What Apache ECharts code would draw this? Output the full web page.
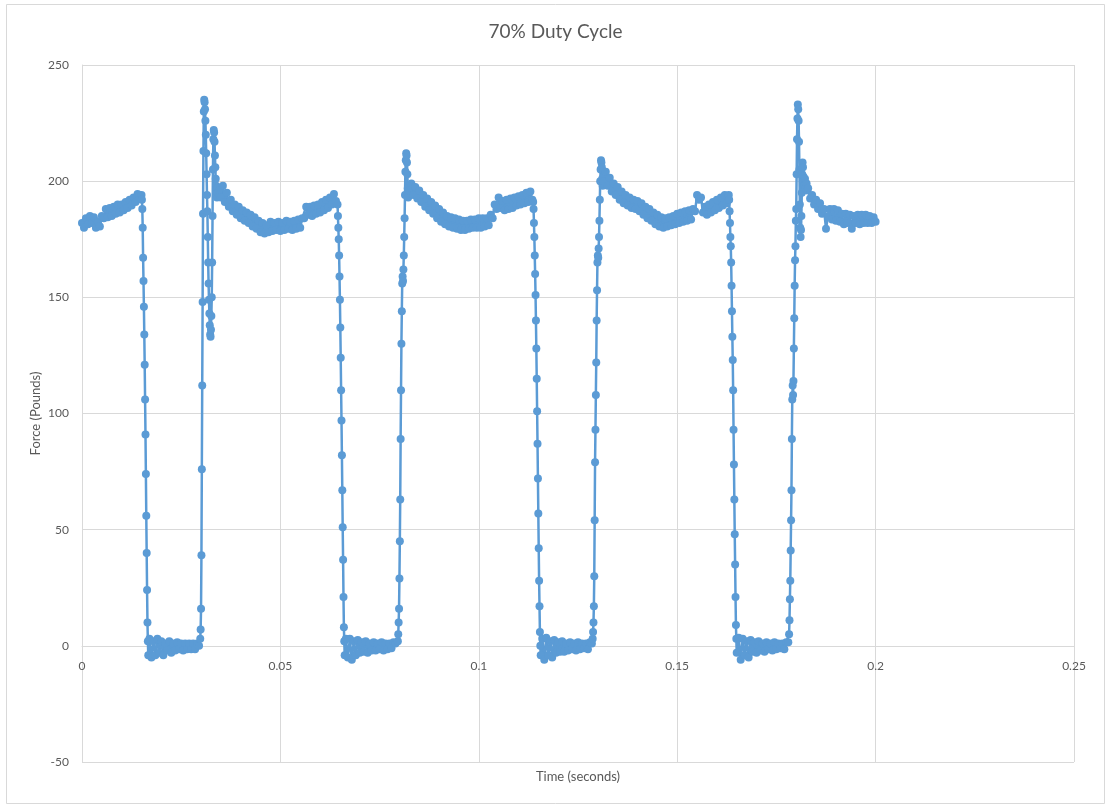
<!DOCTYPE html>
<html>
<head>
<meta charset="utf-8">
<title>70% Duty Cycle</title>
<script src="https://cdn.jsdelivr.net/npm/echarts@6/dist/echarts.min.js"></script>
<style>
  html, body { margin: 0; padding: 0; background: #ffffff; }
  #chart { width: 1111px; height: 808px; }
</style>
</head>
<body>
<div id="chart"></div>
<script>
// Force readings [time (s), force (lb)] for one run at 70% duty cycle,
// split into the on/off phases of each cycle.
const highA = [[0,182],[0.0005,180],[0.001,184],[0.0015,181.5],[0.002,185],[0.0025,182],[0.003,184.5],[0.0035,180],[0.004,182.5],[0.0045,180.5],[0.005,185],[0.0055,184],[0.006,188],[0.0065,184.5],[0.007,188.5],[0.0075,185],[0.008,189],[0.0085,186],[0.009,190],[0.0095,186.5],[0.01,190],[0.0105,187.5],[0.011,191],[0.0115,188.5],[0.012,192],[0.0125,189.5],[0.013,193],[0.0135,191],[0.014,194.5],[0.0145,192.5],[0.015,194]];
const fallA = [[0.0151,192],[0.0152,188],[0.0153,180],[0.0154,167],[0.0155,157],[0.0156,146],[0.0157,134],[0.0158,121],[0.0159,106],[0.016,91],[0.0161,74],[0.0162,56],[0.0163,40],[0.0164,24],[0.0165,10],[0.0166,2],[0.0167,-4]];
const lowA = [[0.017,3],[0.0175,-5],[0.018,2],[0.0185,-4],[0.019,3],[0.0195,-3],[0.02,2],[0.0205,-4],[0.021,1],[0.0215,-2],[0.022,2],[0.0225,-3],[0.023,1],[0.0235,-2],[0.024,1.5],[0.0245,-1.5],[0.025,1],[0.0255,-2],[0.026,1],[0.0265,-1.5],[0.027,1],[0.0275,-1.5],[0.028,1],[0.0285,-1.5],[0.029,1],[0.0295,0]];
const riseA = [[0.0298,3],[0.0299,7],[0.03,16],[0.0301,39],[0.0302,76],[0.0303,112],[0.0304,148],[0.0305,186],[0.0306,213],[0.0307,230],[0.0308,235],[0.0309,234],[0.031,231],[0.0311,226],[0.0312,220],[0.0313,212],[0.0314,203],[0.0315,194],[0.0316,187],[0.0317,176],[0.0318,165],[0.0319,156],[0.032,149],[0.0321,143],[0.0322,138],[0.0323,134],[0.0324,133],[0.0325,136],[0.0326,142],[0.0327,150],[0.0328,165],[0.0329,185],[0.033,205],[0.0331,218],[0.0332,222],[0.0333,221],[0.0334,217],[0.0335,211],[0.0336,206],[0.0337,201],[0.0338,198],[0.0339,195],[0.034,193],[0.0341,197],[0.0342,195]];
const highB = [[0.0345,196],[0.035,193],[0.0355,198],[0.036,191],[0.0365,195],[0.037,189],[0.0375,192],[0.038,187],[0.0385,190],[0.039,185.5],[0.0395,189],[0.04,184],[0.0405,187.5],[0.041,183],[0.0415,186.5],[0.042,182],[0.0425,185.5],[0.043,180.5],[0.0435,184.5],[0.044,179.5],[0.0445,183],[0.045,178],[0.0455,182],[0.046,177.5],[0.0465,181],[0.047,178],[0.0475,182.5],[0.048,178.5],[0.0485,182],[0.049,179],[0.0495,182.5],[0.05,178.5],[0.0505,182],[0.051,179],[0.0515,183],[0.052,179.5],[0.0525,182.5],[0.053,179],[0.0535,183],[0.054,179.5],[0.0545,183.5],[0.055,180],[0.0555,184],[0.056,184],[0.0565,189],[0.057,185.5],[0.0575,189],[0.058,185],[0.0585,189.5],[0.059,186],[0.0595,190],[0.06,186.5],[0.0605,191],[0.061,187.5],[0.0615,192],[0.062,188.5],[0.0625,193],[0.063,190],[0.0635,194.5],[0.064,191.5]];
const fallB = [[0.0644,190],[0.0645,185],[0.0646,180],[0.0647,175],[0.0648,168],[0.0649,159],[0.065,149],[0.0651,137],[0.0652,124],[0.0653,110],[0.0654,97],[0.0655,82],[0.0656,67],[0.0657,51],[0.0658,37],[0.0659,21],[0.066,8],[0.0661,2],[0.0662,-4]];
const lowB = [[0.0665,3],[0.067,-5],[0.0675,3],[0.068,-6],[0.0685,2],[0.069,-4],[0.0695,2.5],[0.07,-3],[0.0705,1.5],[0.071,-2.5],[0.0715,2],[0.072,-3],[0.0725,1],[0.073,-2],[0.0735,1.5],[0.074,-2],[0.0745,1],[0.075,-1.5],[0.0755,1.5],[0.076,-2],[0.0765,1],[0.077,-1.5],[0.0775,1],[0.078,-1],[0.0785,1.5],[0.079,1]];
const riseB = [[0.0796,2],[0.0797,5],[0.0798,10],[0.0799,16],[0.08,29],[0.0801,45],[0.0802,63],[0.0803,89],[0.0804,110],[0.0805,130],[0.0806,144],[0.0807,156],[0.0808,159],[0.0809,157],[0.081,162],[0.0811,168],[0.0812,176],[0.0813,184],[0.0814,194],[0.0815,204],[0.0816,209],[0.0817,212],[0.0818,211],[0.0819,208],[0.082,203],[0.0821,197],[0.0822,193]];
const highC = [[0.0825,196],[0.083,199],[0.0835,194],[0.084,197.5],[0.0845,192.5],[0.085,196],[0.0855,191],[0.086,194],[0.0865,189],[0.087,192.5],[0.0875,187.5],[0.088,191],[0.0885,186],[0.089,189.5],[0.0895,184],[0.09,188],[0.0905,182.5],[0.091,186.5],[0.0915,181.5],[0.092,185],[0.0925,180.5],[0.093,184.5],[0.0935,180],[0.094,184],[0.0945,179.5],[0.095,183.5],[0.0955,179],[0.096,183],[0.0965,179],[0.097,183],[0.0975,179.5],[0.098,183.5],[0.0985,180],[0.099,183.5],[0.0995,180],[0.1,184],[0.1005,180],[0.101,184],[0.1015,180.5],[0.102,184],[0.1025,181],[0.103,185.5],[0.1035,184],[0.104,190],[0.1045,188],[0.105,193],[0.1055,188.5],[0.106,191.5],[0.1065,187.5],[0.107,192],[0.1075,188],[0.108,192.5],[0.1085,188.5],[0.109,193],[0.1095,189.5],[0.11,193.5],[0.1105,190],[0.111,194],[0.1115,190.5],[0.112,195],[0.1125,191],[0.113,195.5],[0.1135,192]];
const fallC = [[0.1137,191],[0.1138,188],[0.1139,182],[0.114,176],[0.1141,168],[0.1142,160],[0.1143,151],[0.1144,140],[0.1145,128],[0.1146,115],[0.1147,101],[0.1148,87],[0.1149,72],[0.115,57],[0.1151,42],[0.1152,28],[0.1153,17],[0.1154,6],[0.1155,0],[0.1156,-4]];
const lowC = [[0.116,3],[0.1165,-6],[0.117,3.5],[0.1175,-4],[0.118,2],[0.1185,-5],[0.119,2.5],[0.1195,-3],[0.12,1.5],[0.1205,-2.5],[0.121,2],[0.1215,-2.5],[0.122,1],[0.1225,-2],[0.123,1.5],[0.1235,-1.5],[0.124,1],[0.1245,-2],[0.125,1.5],[0.1255,-1.5],[0.126,1],[0.1265,-1],[0.127,1],[0.1275,-1.5],[0.128,1.5],[0.1285,1]];
const riseC = [[0.1287,3],[0.1288,6],[0.1289,10],[0.129,17],[0.1291,30],[0.1292,54],[0.1293,79],[0.1294,93],[0.1295,108],[0.1296,122],[0.1297,140],[0.1298,153],[0.1299,165],[0.13,168],[0.1301,167],[0.1302,171],[0.1303,176],[0.1304,183],[0.1305,192],[0.1306,200],[0.1307,205],[0.1308,209],[0.1309,208],[0.131,206],[0.1311,201],[0.1312,198]];
const highD = [[0.1315,200],[0.132,204],[0.1325,198],[0.133,201.5],[0.1335,195.5],[0.134,199],[0.1345,194],[0.135,197.5],[0.1355,192],[0.136,195.5],[0.1365,190.5],[0.137,194],[0.1375,189.5],[0.138,193],[0.1385,188.5],[0.139,192],[0.1395,188],[0.14,191.5],[0.1405,187],[0.141,190.5],[0.1415,185.5],[0.142,189],[0.1425,184],[0.143,188],[0.1435,183],[0.144,186.5],[0.1445,181.5],[0.145,185.5],[0.1455,180.5],[0.146,184.5],[0.1465,180],[0.147,184],[0.1475,180.5],[0.148,184.5],[0.1485,181],[0.149,185],[0.1495,181.5],[0.15,186],[0.1505,182],[0.151,186.5],[0.1515,182.5],[0.152,187],[0.1525,183],[0.153,187.5],[0.1535,183.5],[0.154,188],[0.1545,187],[0.155,194],[0.1555,192],[0.156,193],[0.1565,186.5],[0.157,189],[0.1575,185.5],[0.158,190],[0.1585,186.5],[0.159,191],[0.1595,187.5],[0.16,192],[0.1605,188.5],[0.161,193],[0.1615,189.5],[0.162,194],[0.1625,190.5],[0.163,194]];
const fallD = [[0.1631,192],[0.1632,187],[0.1633,182],[0.1634,176],[0.1635,172],[0.1636,165],[0.1637,155],[0.1638,144],[0.1639,133],[0.164,123],[0.1641,110],[0.1642,93],[0.1643,78],[0.1644,63],[0.1645,48],[0.1646,35],[0.1647,21],[0.1648,9],[0.1649,3],[0.165,-3]];
const lowD = [[0.1655,3.5],[0.166,-6],[0.1665,3],[0.167,-4],[0.1675,2],[0.168,-5],[0.1685,2.5],[0.169,-2.5],[0.1695,1.5],[0.17,-3],[0.1705,2],[0.171,-2],[0.1715,1],[0.172,-2.5],[0.1725,1.5],[0.173,-1.5],[0.1735,1],[0.174,-2],[0.1745,1.5],[0.175,-1.5],[0.1755,1],[0.176,-1],[0.1765,1],[0.177,-1.5],[0.1775,1.5],[0.178,1.5]];
const riseD = [[0.1782,5],[0.1783,11],[0.1784,20],[0.1785,28],[0.1786,41],[0.1787,54],[0.1788,67],[0.1789,89],[0.179,106],[0.1791,112],[0.1792,108],[0.1793,114],[0.1794,128],[0.1795,141],[0.1796,155],[0.1797,166],[0.1798,172],[0.1799,183],[0.18,188],[0.1801,203],[0.1802,218],[0.1803,227],[0.1804,233],[0.1805,231],[0.1806,226],[0.1807,217],[0.1808,205],[0.1809,190],[0.181,180],[0.1811,176],[0.1812,179],[0.1813,185],[0.1814,195],[0.1815,203],[0.1816,208],[0.1817,206],[0.1818,202],[0.1819,200],[0.182,198],[0.1822,201],[0.1824,197],[0.1826,199],[0.1828,196]];
const highE = [[0.183,197],[0.1835,192.5],[0.184,194],[0.1845,190],[0.185,192],[0.1855,188],[0.186,190.5],[0.1865,186],[0.187,188],[0.1875,179.5],[0.188,185],[0.1885,188],[0.189,183.5],[0.1895,188],[0.19,183],[0.1905,187.5],[0.191,182.5],[0.1915,186],[0.192,181.5],[0.1925,186],[0.193,182],[0.1935,185.5],[0.194,179.5],[0.1945,185],[0.195,182],[0.1955,185.5],[0.196,181.5],[0.1965,185.5],[0.197,182],[0.1975,185.5],[0.198,182],[0.1985,185],[0.199,182],[0.1995,184.5],[0.2,182.5]];

// Axis ranges and tick spacing
const timeAxis = { min: 0, max: 0.25, step: 0.05 };
const forceAxis = { min: -50, max: 250, step: 50 };

const readings = [].concat(
  highA, fallA, lowA, riseA,
  highB, fallB, lowB, riseB,
  highC, fallC, lowC, riseC,
  highD, fallD, lowD, riseD,
  highE
);

const textColor = '#595959';
const gridColor = '#D9D9D9';
const seriesColor = '#5B9BD5';
const font = 'Lato, "Open Sans", "DejaVu Sans", sans-serif';

// Plot box in pixels; the time axis is lifted from the bottom edge to the
// zero-force line.
const plot = { left: 82, right: 37, top: 65, bottom: 46 };
const plotHeight = 808 - plot.top - plot.bottom;
const zeroLift = plotHeight * (0 - forceAxis.min) / (forceAxis.max - forceAxis.min);

const chart = echarts.init(document.getElementById('chart'), null, { renderer: 'canvas' });
chart.setOption({
  animation: false,
  backgroundColor: '#ffffff',
  textStyle: { fontFamily: font },
  title: {
    text: '70% Duty Cycle',
    left: 'center',
    top: 17,
    textStyle: { color: textColor, fontSize: 19, fontWeight: 'normal', fontFamily: font }
  },
  graphic: [{
    type: 'rect',
    shape: { x: 6.5, y: 4.5, width: 1098, height: 799 },
    style: { fill: 'none', stroke: gridColor, lineWidth: 1 },
    silent: true
  }],
  grid: {
    left: plot.left, right: plot.right, top: plot.top, bottom: plot.bottom,
    containLabel: false, outerBoundsMode: 'none'
  },
  xAxis: {
    type: 'value',
    position: 'bottom',
    offset: -zeroLift,
    min: timeAxis.min,
    max: timeAxis.max,
    interval: timeAxis.step,
    name: 'Time (seconds)',
    nameLocation: 'middle',
    nameGap: 124,
    nameMoveOverlap: false,
    nameTextStyle: { color: textColor, fontSize: 13, fontFamily: font },
    axisLine: { show: true, onZero: false, lineStyle: { color: gridColor, width: 1 } },
    axisTick: { show: false },
    axisLabel: { color: textColor, fontSize: 12, margin: 14, fontFamily: font },
    splitLine: { show: true, lineStyle: { color: gridColor, width: 1 } }
  },
  yAxis: {
    type: 'value',
    min: forceAxis.min,
    max: forceAxis.max,
    interval: forceAxis.step,
    name: 'Force (Pounds)',
    nameLocation: 'middle',
    nameGap: 40,
    nameMoveOverlap: false,
    nameRotate: 90,
    nameTextStyle: { color: textColor, fontSize: 13, fontFamily: font },
    axisLine: { show: true, onZero: false, lineStyle: { color: gridColor, width: 1 } },
    axisTick: { show: false },
    axisLabel: { color: textColor, fontSize: 12, margin: 13, fontFamily: font },
    splitLine: { show: true, lineStyle: { color: gridColor, width: 1 } }
  },
  series: [{
    type: 'line',
    data: readings,
    showSymbol: true,
    symbol: 'circle',
    symbolSize: 8,
    lineStyle: { color: seriesColor, width: 2.5 },
    itemStyle: { color: seriesColor, borderColor: seriesColor, borderWidth: 0 },
    emphasis: { disabled: true },
    silent: true
  }]
});
</script>
</body>
</html>
